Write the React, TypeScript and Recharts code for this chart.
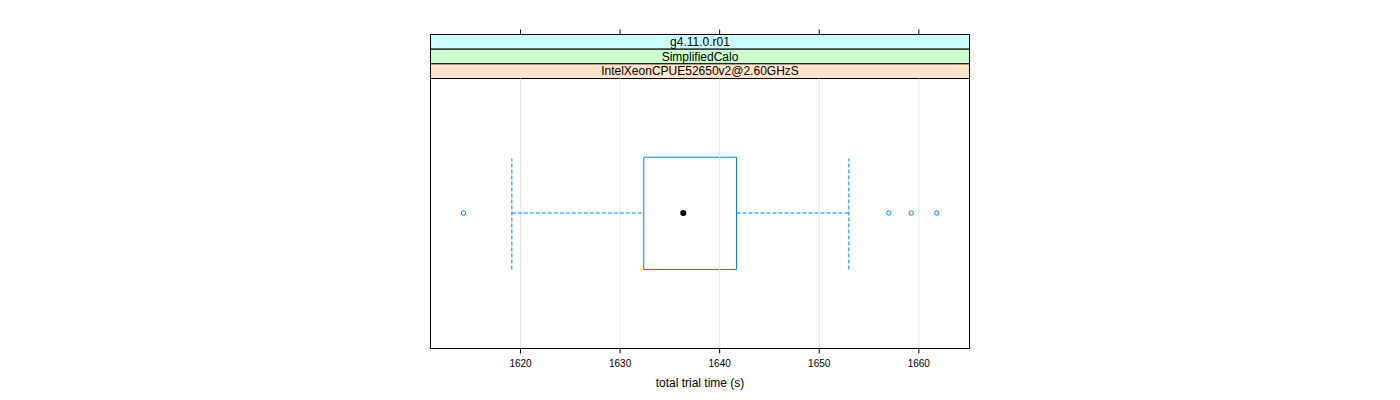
import React from "react";
import {
  ComposedChart,
  XAxis,
  YAxis,
  Scatter,
  ReferenceArea,
  ReferenceLine,
} from "recharts";

// ---- data ----
const stripLabels = ["g4.11.0.r01", "SimplifiedCalo", "IntelXeonCPUE52650v2@2.60GHzS"];
const stripColors = ["#ccffff", "#ccffcc", "#ffe5cc"];
const xTicks = [1620, 1630, 1640, 1650, 1660];
const xDomain = [1610.96, 1665.09];
const whiskerLow = 1619.13;
const quartile1 = 1632.38;
const medianValue = 1636.34;
const quartile3 = 1641.69;
const whiskerHigh = 1652.97;
const outliers = [1614.28, 1656.99, 1659.23, 1661.81];

// ---- layout in y units (panel = 0..1, strips above) ----
const Y_CENTER = 0.5019;
const BOX_LO = 0.2926;
const BOX_HI = 0.7085;
const CAP_LO = 0.2926;
const CAP_HI = 0.7037;
const STRIP_H = 0.0543;
const Y_TOP = 1 + 3 * STRIP_H;

const BLUE = "#0080ff";

const outlierData = outliers.map((x) => ({ x, y: Y_CENTER }));
const medianData = [{ x: medianValue, y: Y_CENTER }];

const EmptyTick = () => <g />;

export default function App() {
  return (
    <div
      style={{
        position: "absolute",
        left: 0,
        top: 0,
        width: 1400,
        height: 400,
        fontFamily: "'Liberation Sans', Arial, Helvetica, sans-serif",
        background: "#fff",
      }}
    >
      <ComposedChart
        width={1400}
        height={400}
        margin={{ top: 33.5, right: 430.5, bottom: 0, left: 430.5 }}
      >
        <XAxis
          xAxisId="bottom"
          type="number"
          dataKey="x"
          domain={xDomain}
          allowDataOverflow
          ticks={xTicks}
          orientation="bottom"
          height={51.5}
          tickSize={5}
          tickMargin={6}
          axisLine={false}
          stroke="#000"
          tick={{ fontSize: 10, fill: "#000" }}
          label={{
            value: "total trial time (s)",
            position: "insideBottom",
            offset: 13,
            fontSize: 12,
            fill: "#000",
          }}
        />
        <XAxis
          xAxisId="top"
          type="number"
          dataKey="x"
          domain={xDomain}
          allowDataOverflow
          ticks={xTicks}
          orientation="top"
          height={1}
          tickSize={5}
          tickMargin={0}
          axisLine={false}
          stroke="#000"
          tickLine={{ stroke: "#000" }}
          tick={<EmptyTick />}
        />
        <YAxis type="number" dataKey="y" domain={[0, Y_TOP]} hide allowDataOverflow />

        {xTicks.map((t) => (
          <ReferenceLine
            key={"g" + t}
            xAxisId="bottom"
            segment={[
              { x: t, y: 0 },
              { x: t, y: 1 },
            ]}
            stroke="#e6e6e6"
            strokeWidth={1}
          />
        ))}

        {stripLabels.map((lab, i) => (
          <ReferenceArea
            key={"s" + i}
            xAxisId="bottom"
            x1={xDomain[0]}
            x2={xDomain[1]}
            y1={Y_TOP - (i + 1) * STRIP_H}
            y2={Y_TOP - i * STRIP_H}
            fill={stripColors[i]}
            fillOpacity={1}
            stroke="#000"
            strokeWidth={1}
            label={{ value: lab, position: "center", fontSize: 12, fill: "#000" }}
          />
        ))}

        <ReferenceArea
          xAxisId="bottom"
          x1={xDomain[0]}
          x2={xDomain[1]}
          y1={0}
          y2={Y_TOP}
          fill="none"
          fillOpacity={0}
          stroke="#000"
          strokeWidth={1}
        />

        <ReferenceArea
          xAxisId="bottom"
          x1={quartile1}
          x2={quartile3}
          y1={BOX_LO}
          y2={BOX_HI}
          fill="none"
          fillOpacity={0}
          stroke={BLUE}
          strokeWidth={1}
        />

        <ReferenceLine
          xAxisId="bottom"
          segment={[
            { x: whiskerLow, y: Y_CENTER },
            { x: quartile1, y: Y_CENTER },
          ]}
          stroke={BLUE}
          strokeDasharray="4 2"
        />
        <ReferenceLine
          xAxisId="bottom"
          segment={[
            { x: quartile3, y: Y_CENTER },
            { x: whiskerHigh, y: Y_CENTER },
          ]}
          stroke={BLUE}
          strokeDasharray="4 2"
        />
        <ReferenceLine
          xAxisId="bottom"
          segment={[
            { x: whiskerLow, y: CAP_LO },
            { x: whiskerLow, y: CAP_HI },
          ]}
          stroke={BLUE}
          strokeDasharray="4 2"
        />
        <ReferenceLine
          xAxisId="bottom"
          segment={[
            { x: whiskerHigh, y: CAP_LO },
            { x: whiskerHigh, y: CAP_HI },
          ]}
          stroke={BLUE}
          strokeDasharray="4 2"
        />

        <Scatter
          xAxisId="bottom"
          data={outlierData}
          isAnimationActive={false}
          shape={(p: any) => (
            <circle cx={p.cx} cy={p.cy} r={2.2} fill="none" stroke={BLUE} strokeWidth={1} />
          )}
        />
        <Scatter
          xAxisId="bottom"
          data={medianData}
          isAnimationActive={false}
          shape={(p: any) => <circle cx={p.cx} cy={p.cy} r={3} fill="#000" />}
        />
      </ComposedChart>
    </div>
  );
}
